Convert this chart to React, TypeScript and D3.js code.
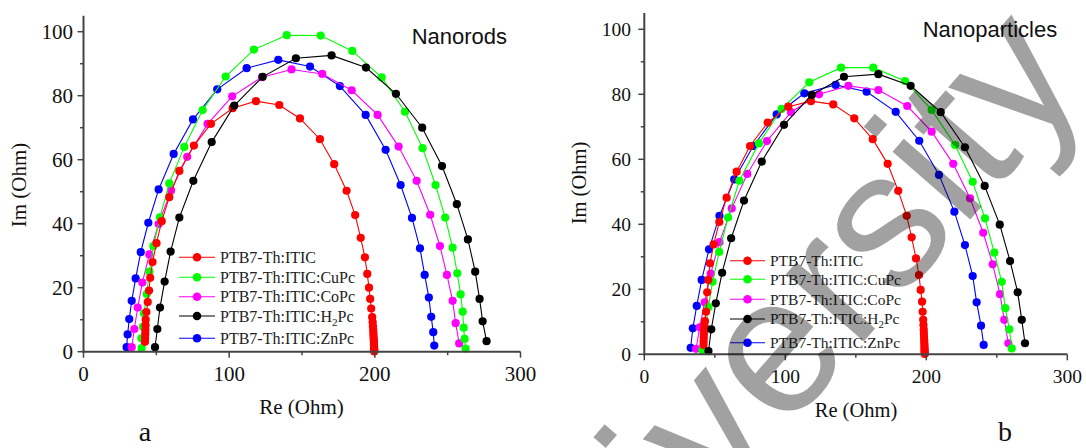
import React from 'react';
import * as d3 from 'd3';

const seriesNames = ['PTB7-Th:ITIC', 'PTB7-Th:ITIC:CuPc', 'PTB7-Th:ITIC:CoPc', 'PTB7-Th:ITIC:H2Pc', 'PTB7-Th:ITIC:ZnPc'];
const seriesColors = ['#ff0000', '#00ff00', '#ff00ff', '#000000', '#0000ff'];
const xTicks = [0, 100, 200, 300];
const xMinorTicks = [50, 150, 250];
const yTicks = [0, 20, 40, 60, 80, 100];
const yMinorTicks = [10, 30, 50, 70, 90];

// ---- Nanorods (a) ----
const rodsITIC_re = [42.2, 42.3, 42.4, 42.5, 42.6, 42.7, 43.2, 44.1, 45.0, 45.8, 47.4, 50.1, 53.7, 58.9, 65.8, 75.8, 87.5, 102.4, 118.4, 134.4, 148.6, 162.3, 172.1, 180.6, 186.5, 190.3, 193.2, 194.8, 196.0, 196.8, 197.5, 198.2, 198.5, 198.7, 198.9, 199.0, 199.1, 199.2, 199.3, 199.4, 199.4, 199.5, 199.5, 199.6, 199.6, 199.6];
const rodsITIC_im = [3.1, 4.3, 5.5, 6.8, 8.3, 10.0, 12.4, 15.5, 19.1, 23.1, 28.0, 33.9, 40.8, 48.3, 56.5, 64.4, 71.2, 76.1, 78.3, 77.1, 72.9, 66.4, 58.6, 50.3, 42.7, 35.6, 29.5, 24.3, 20.0, 16.5, 13.5, 10.8, 9.2, 7.9, 6.8, 5.8, 4.9, 4.1, 3.4, 2.8, 2.2, 1.7, 1.2, 0.8, 0.4, 0.1];
const rodsCuPc_re = [39.9, 39.7, 40.8, 41.5, 43.4, 45.2, 48.0, 52.5, 58.9, 69.2, 81.8, 97.6, 117.0, 139.5, 162.8, 184.5, 204.7, 220.7, 232.8, 241.7, 248.3, 253.4, 256.6, 258.9, 260.3, 261.0, 261.6, 262.3];
const rodsCuPc_im = [1.1, 4.2, 7.8, 12.0, 18.0, 25.0, 33.0, 42.0, 52.6, 64.0, 75.5, 86.0, 94.4, 98.9, 98.8, 94.0, 85.7, 75.0, 63.6, 52.1, 41.9, 32.5, 24.5, 17.9, 12.5, 7.5, 4.0, 1.0];
const rodsCoPc_re = [33.1, 34.9, 37.2, 40.4, 45.2, 51.6, 60.1, 71.2, 85.2, 102.1, 122.5, 142.8, 163.9, 184.1, 201.9, 216.3, 228.7, 238.0, 244.7, 249.5, 253.4, 255.5, 257.9];
const rodsCoPc_im = [1.4, 7.1, 13.8, 21.6, 30.4, 39.9, 50.4, 60.9, 71.2, 79.8, 85.8, 88.2, 86.8, 81.7, 74.0, 64.1, 53.4, 42.8, 33.0, 24.0, 15.9, 8.9, 2.6];
const rodsH2Pc_re = [49.1, 50.7, 52.5, 55.7, 59.8, 65.8, 75.4, 88.0, 103.5, 123.0, 145.8, 170.3, 193.9, 214.5, 232.5, 246.1, 256.3, 263.9, 268.9, 271.9, 274.0, 276.7];
const rodsH2Pc_im = [1.4, 7.1, 13.8, 21.9, 31.3, 41.9, 53.4, 65.5, 76.9, 85.9, 91.7, 92.6, 88.8, 80.6, 70.0, 58.0, 46.1, 35.1, 25.0, 16.5, 9.5, 3.3];
const rodsZnPc_re = [29.6, 30.3, 31.4, 33.1, 35.8, 39.3, 44.5, 51.6, 61.9, 75.2, 91.8, 112.0, 133.7, 155.5, 176.0, 193.7, 207.4, 217.7, 225.5, 231.0, 234.2, 237.1, 238.7, 240.1, 240.8];
const rodsZnPc_im = [1.4, 5.4, 10.2, 15.9, 22.9, 31.1, 40.3, 50.7, 61.8, 72.6, 82.0, 88.6, 91.2, 89.1, 83.0, 74.0, 63.1, 52.1, 41.8, 32.3, 24.0, 16.9, 10.9, 6.1, 1.9];

// ---- Nanoparticles (b) ----
const partITIC_re = [42.0, 42.1, 42.2, 42.3, 42.4, 42.6, 43.0, 43.8, 44.6, 45.4, 46.6, 49.2, 53.2, 58.4, 65.5, 75.0, 87.5, 102.1, 118.2, 134.0, 148.9, 162.0, 172.6, 180.1, 186.1, 189.6, 192.7, 194.8, 196.0, 197.0, 197.4, 197.8, 198.0, 198.2, 198.3, 198.4, 198.5, 198.6, 198.7, 198.7, 198.8, 198.8, 198.9, 198.9];
const partITIC_im = [2.9, 4.0, 5.2, 6.4, 7.7, 9.0, 10.2, 13.1, 19.1, 22.9, 28.0, 33.8, 40.7, 48.2, 56.2, 64.1, 71.3, 76.2, 77.9, 76.9, 72.6, 66.2, 58.6, 50.3, 42.6, 36.0, 29.5, 24.4, 19.8, 16.2, 13.1, 10.6, 9.0, 7.6, 6.4, 5.3, 4.3, 3.4, 2.6, 1.9, 1.3, 0.8, 0.4, 0.1];
const partCuPc_re = [41.1, 43.4, 45.4, 48.4, 53.1, 59.4, 67.4, 81.3, 97.4, 117.0, 139.5, 162.4, 184.9, 203.8, 220.4, 232.9, 241.6, 248.2, 253.5, 256.0, 258.9, 260.6];
const partCuPc_im = [1.3, 8.0, 14.5, 22.3, 31.5, 42.1, 53.4, 64.9, 75.5, 83.7, 88.2, 88.2, 84.1, 75.2, 64.4, 53.1, 41.8, 31.3, 22.3, 14.2, 7.7, 1.8];
const partCoPc_re = [36.7, 39.3, 42.8, 47.1, 53.3, 62.0, 73.0, 87.0, 104.0, 123.9, 144.7, 166.0, 186.5, 203.8, 219.1, 231.0, 240.4, 247.1, 252.3, 255.3, 258.2];
const partCoPc_im = [1.7, 8.3, 16.0, 24.8, 34.5, 44.9, 55.5, 65.6, 74.5, 80.0, 82.6, 81.3, 76.4, 68.5, 58.6, 48.0, 37.4, 27.7, 18.5, 10.6, 3.4];
const partH2Pc_re = [45.5, 47.5, 50.7, 55.2, 61.6, 70.7, 83.3, 99.1, 118.7, 141.6, 166.0, 188.9, 210.2, 227.4, 241.4, 252.1, 259.4, 264.8, 267.7, 270.0];
const partH2Pc_im = [1.0, 7.7, 15.7, 25.1, 35.7, 47.3, 59.3, 70.6, 79.8, 85.4, 86.2, 82.6, 74.5, 63.7, 51.8, 39.9, 28.7, 19.1, 10.6, 3.4];
const partZnPc_re = [32.9, 34.4, 37.2, 40.7, 45.9, 53.3, 63.8, 77.3, 93.9, 113.5, 135.7, 157.7, 178.3, 195.0, 209.0, 219.9, 227.4, 232.9, 235.7, 238.8, 240.7];
const partZnPc_im = [2.0, 8.0, 14.9, 22.9, 32.3, 42.6, 53.8, 64.1, 73.8, 80.3, 82.9, 80.8, 74.6, 65.7, 55.2, 43.9, 33.6, 24.1, 16.0, 8.8, 2.9];

const rodsRe = [rodsITIC_re, rodsCuPc_re, rodsCoPc_re, rodsH2Pc_re, rodsZnPc_re];
const rodsIm = [rodsITIC_im, rodsCuPc_im, rodsCoPc_im, rodsH2Pc_im, rodsZnPc_im];
const partRe = [partITIC_re, partCuPc_re, partCoPc_re, partH2Pc_re, partZnPc_re];
const partIm = [partITIC_im, partCuPc_im, partCoPc_im, partH2Pc_im, partZnPc_im];

// drawing order (last on top)
const drawOrder = [4, 2, 1, 0, 3];

const SERIF = '"Liberation Serif", "Times New Roman", serif';
const SANS = '"Liberation Sans", Arial, sans-serif';
const AXIS_COLOR = '#444';

type PanelCfg = {
  xr: [number, number];
  yr: [number, number];
  tickFont: number;
  yLabelRight: number;
  xLabelBase: number;
  title: string;
  titleX: number;
  titleY: number;
  legLine: [number, number];
  legText: number;
  legRows: number[];
  legFont: number;
  xTitle: [number, number];
  yTitle: [number, number];
  axisFont: number;
  tag: string;
  tagPos: [number, number];
};

function LegendLabel({ name, x, y, size }: { name: string; x: number; y: number; size: number }) {
  if (name.endsWith('H2Pc')) {
    const base = name.slice(0, name.length - 3);
    return (
      <text x={x} y={y} dy="0.35em" fontFamily={SERIF} fontSize={size} fill="#222">
        {base}
        <tspan dy={4} fontSize={size * 0.7}>2</tspan>
        <tspan dy={-4}>Pc</tspan>
      </text>
    );
  }
  return (
    <text x={x} y={y} dy="0.35em" fontFamily={SERIF} fontSize={size} fill="#222">
      {name}
    </text>
  );
}

function Panel({ cfg, res, ims }: { cfg: PanelCfg; res: number[][]; ims: number[][] }) {
  const x = d3.scaleLinear().domain([0, 300]).range(cfg.xr);
  const y = d3.scaleLinear().domain([0, 105]).range(cfg.yr);
  const line = d3
    .line<[number, number]>()
    .x((d) => x(d[0]))
    .y((d) => y(d[1]));
  const x0 = x(0);
  const y0 = y(0);
  return (
    <g>
      {drawOrder.map((si) => {
        const pts: [number, number][] = res[si].map((v, i) => [v, ims[si][i]]);
        return (
          <g key={si}>
            <path d={line(pts) || ''} fill="none" stroke={seriesColors[si]} strokeWidth={1.1} />
            {pts.map((p, i) => (
              <circle key={i} cx={x(p[0])} cy={y(p[1])} r={4.1} fill={seriesColors[si]} />
            ))}
          </g>
        );
      })}
      {/* axes */}
      <line x1={x0} x2={x0} y1={y0 + 1} y2={y(105)} stroke={AXIS_COLOR} strokeWidth={2} />
      <line x1={x0 - 1} x2={x(300)} y1={y0} y2={y0} stroke={AXIS_COLOR} strokeWidth={2} />
      {yTicks.map((t) => (
        <g key={'yt' + t}>
          <line x1={x0 - 6} x2={x0} y1={y(t)} y2={y(t)} stroke={AXIS_COLOR} strokeWidth={1.5} />
          <text x={cfg.yLabelRight} y={y(t)} dy="0.35em" textAnchor="end" fontFamily={SERIF} fontSize={cfg.tickFont} fill="#111">
            {t}
          </text>
        </g>
      ))}
      {yMinorTicks.map((t) => (
        <line key={'ym' + t} x1={x0 - 3.5} x2={x0} y1={y(t)} y2={y(t)} stroke={AXIS_COLOR} strokeWidth={1.5} />
      ))}
      {xTicks.map((t) => (
        <g key={'xt' + t}>
          <line x1={x(t)} x2={x(t)} y1={y0} y2={y0 + 6} stroke={AXIS_COLOR} strokeWidth={1.5} />
          <text x={x(t)} y={cfg.xLabelBase} textAnchor="middle" fontFamily={SERIF} fontSize={cfg.tickFont} fill="#111">
            {t}
          </text>
        </g>
      ))}
      {xMinorTicks.map((t) => (
        <line key={'xm' + t} x1={x(t)} x2={x(t)} y1={y0} y2={y0 + 3.5} stroke={AXIS_COLOR} strokeWidth={1.5} />
      ))}
      {/* axis titles */}
      <text x={cfg.xTitle[0]} y={cfg.xTitle[1]} textAnchor="middle" fontFamily={SERIF} fontSize={cfg.axisFont} fill="#111">
        Re (Ohm)
      </text>
      <text
        transform={`translate(${cfg.yTitle[0]},${cfg.yTitle[1]}) rotate(-90)`}
        textAnchor="middle"
        fontFamily={SERIF}
        fontSize={cfg.axisFont}
        fill="#111"
      >
        Im (Ohm)
      </text>
      {/* title */}
      <text x={cfg.titleX} y={cfg.titleY} fontFamily={SANS} fontSize={22} fill="#111">
        {cfg.title}
      </text>
      {/* legend */}
      {seriesNames.map((n, i) => (
        <g key={'lg' + i}>
          <line x1={cfg.legLine[0]} x2={cfg.legLine[1]} y1={cfg.legRows[i]} y2={cfg.legRows[i]} stroke={seriesColors[i]} strokeWidth={1.1} />
          <circle cx={(cfg.legLine[0] + cfg.legLine[1]) / 2} cy={cfg.legRows[i]} r={4.3} fill={seriesColors[i]} />
          <LegendLabel name={n} x={cfg.legText} y={cfg.legRows[i]} size={cfg.legFont} />
        </g>
      ))}
      <text x={cfg.tagPos[0]} y={cfg.tagPos[1]} textAnchor="middle" fontFamily={SERIF} fontSize={28} fill="#111">
        {cfg.tag}
      </text>
    </g>
  );
}

const leftCfg: PanelCfg = {
  xr: [83.5, 520.5],
  yr: [351.7, 15.7],
  tickFont: 21,
  yLabelRight: 73,
  xLabelBase: 380.5,
  title: 'Nanorods',
  titleX: 411.7,
  titleY: 44.3,
  legLine: [179, 215],
  legText: 220,
  legRows: [257.3, 277.3, 296.7, 316, 338.3],
  legFont: 16,
  xTitle: [301.5, 414],
  yTitle: [26, 185],
  axisFont: 21,
  tag: 'a',
  tagPos: [145, 441],
};

const rightCfg: PanelCfg = {
  xr: [644.3, 1067.3],
  yr: [354.3, 13.05],
  tickFont: 19.5,
  yLabelRight: 631,
  xLabelBase: 382.5,
  title: 'Nanoparticles',
  titleX: 922.7,
  titleY: 36.5,
  legLine: [730, 765],
  legText: 770,
  legRows: [260.7, 279.3, 299.3, 319, 342.7],
  legFont: 15.5,
  xTitle: [856, 416.5],
  yTitle: [586, 183],
  axisFont: 20.5,
  tag: 'b',
  tagPos: [1005, 441],
};

export default function App() {
  return (
    <svg
      width={1086}
      height={448}
      viewBox="0 0 1086 448"
      style={{ position: 'absolute', left: 0, top: 0, background: '#fff' }}
    >
      <rect x={0} y={0} width={1086} height={448} fill="#fff" />
      <Panel cfg={leftCfg} res={rodsRe} ims={rodsIm} />
      <Panel cfg={rightCfg} res={partRe} ims={partIm} />
      <text
        transform="translate(528,728) rotate(-49)"
        fontFamily={SANS}
        fontSize={195}
        fill="#000"
        fillOpacity={0.37}
      >
        University
      </text>
    </svg>
  );
}
